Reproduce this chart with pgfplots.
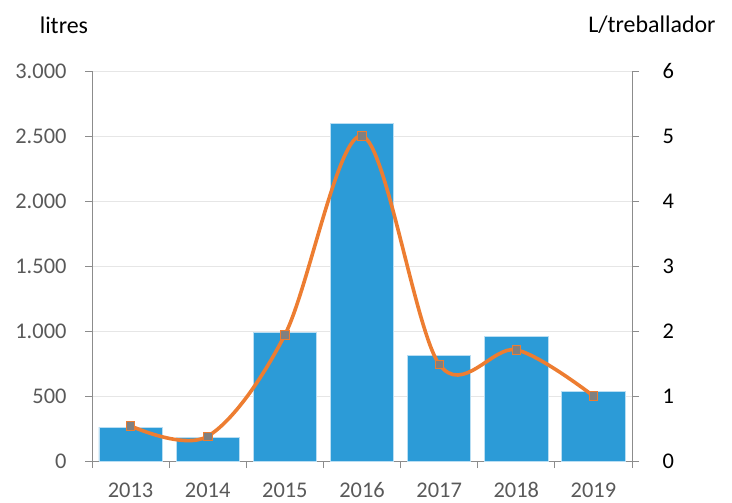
\documentclass[border=0pt]{standalone}
\usepackage{pgfplots}
\pgfplotsset{compat=1.18}
\usepackage{fontspec}
\setmainfont{Carlito}
\usetikzlibrary{calc}
\definecolor{barblue}{RGB}{44,155,215}
\definecolor{baredge}{RGB}{185,222,243}
\definecolor{lineorange}{RGB}{237,125,49}
\definecolor{markgray}{RGB}{128,128,128}
\definecolor{ticktext}{RGB}{89,89,89}
\definecolor{axisgray}{RGB}{140,140,140}
\definecolor{gridgray}{RGB}{230,230,230}
\begin{document}
\begin{tikzpicture}
\pgfplotsset{
  every axis/.append style={
    scale only axis, width=540bp, height=390bp,
    xmin=-0.5, xmax=6.5,
    font=\fontsize{22.5}{26}\selectfont,
    tick align=outside,
    major tick length=7bp,
    /pgf/number format/assume math mode=true,
    /pgf/number format/.cd, 1000 sep={.},
  },
}
\begin{axis}[
  axis x line*=bottom, axis y line*=left,
  axis line style={axisgray, line width=0.8bp},
  every tick/.style={axisgray, line width=0.8bp},
  ymin=0, ymax=3000, ytick={0,500,...,3000},
  ymajorgrids, grid style={gridgray, line width=0.8bp},
  xtick={0,...,6},
  xticklabels={2013,2014,2015,2016,2017,2018,2019},
  major x tick style={draw=none},
  minor xtick={-0.5,0.5,...,6.5},
  minor x tick style={axisgray, line width=0.8bp},
  minor tick length=7bp,
  yticklabel style={text=ticktext, xshift=-15bp},
  xticklabel style={text=ticktext, yshift=-11bp},
  ylabel={litres},
  ylabel style={rotate=-90, at={(axis description cs:-0.052,1.118)}, anchor=center, text=black, font=\fontsize{24}{28}\selectfont},
]
\addplot[ybar, bar width=0.82, fill=barblue, draw=baredge, line width=0.8bp]
  coordinates {(0,260) (1,178) (2,992) (3,2598) (4,810) (5,959) (6,538)};
\end{axis}
\begin{axis}[
  axis x line=none, axis y line*=right,
  axis line style={axisgray, line width=0.8bp},
  every tick/.style={axisgray, line width=0.8bp},
  ymin=0, ymax=6, ytick={0,...,6},
  yticklabel style={text=black, xshift=20bp},
  ylabel={L/treballador},
  ylabel style={rotate=-90, at={(axis description cs:1.037,1.118)}, anchor=center, text=black, font=\fontsize{24}{28}\selectfont},
]
\addplot[lineorange, line width=3.6bp, smooth, tension=0.55,
  mark=square*, mark size=4.2bp,
  mark options={fill=markgray, draw=lineorange, line width=0.8bp}]
  coordinates {(0,0.54) (1,0.38) (2,1.94) (3,5.0) (4,1.49) (5,1.71) (6,1.0)};
\end{axis}
\path[use as bounding box] ($(current axis.south west)+(-92bp,-41bp)$) rectangle ($(current axis.north east)+(100bp,71bp)$);
\end{tikzpicture}
\end{document}
